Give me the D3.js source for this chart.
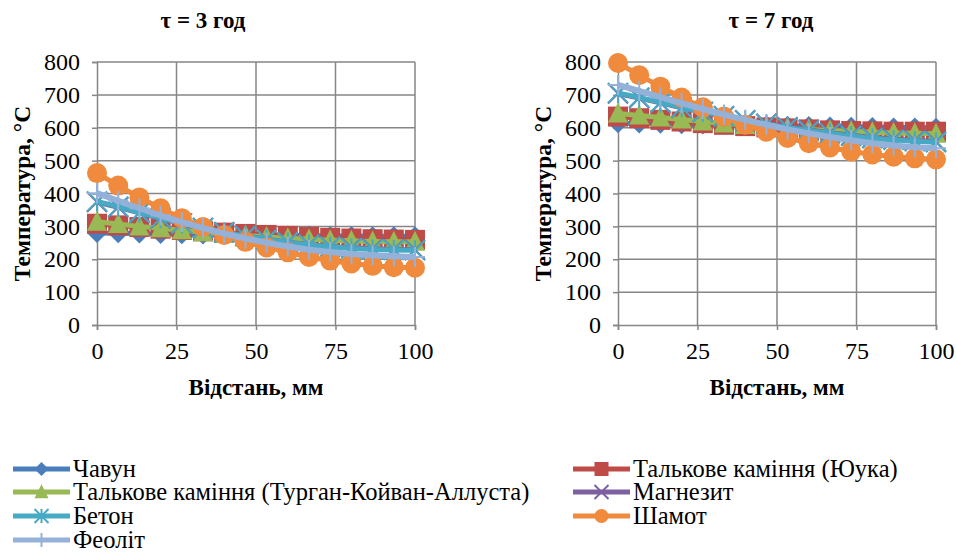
<!DOCTYPE html>
<html>
<head>
<meta charset="utf-8">
<script src="https://cdn.jsdelivr.net/npm/d3@7"></script>
<style>
body { margin: 0; background: #fff; }
</style>
</head>
<body>
<script>
var w = 956;
var h = 553;
var serif = "'Liberation Serif'";

// distance points, mm
var distance = [0, 6.67, 13.33, 20, 26.67, 33.33, 40, 46.67, 53.33, 60, 66.67, 73.33, 80, 86.67, 93.33, 100];
var xTicks = [0, 25, 50, 75, 100];
var yTicks = [0, 100, 200, 300, 400, 500, 600, 700, 800];

var names = ["Чавун", "Талькове каміння (Юука)", "Талькове каміння (Турган-Койван-Аллуста)",
             "Магнезит", "Бетон", "Шамот", "Феоліт"];
var colors = ["#4A7EBB", "#BE4B48", "#98B954", "#7D60A0", "#46AAC5", "#F08A3C", "#93B1D9"];
var markers = ["diamond", "square", "triangle", "x", "star", "circle", "plus"];

// tau = 3 h
var t3_chavun   = [280, 279, 278, 277, 276, 275, 274, 274, 273, 272, 272, 271, 271, 270, 270, 270];
var t3_yuuka    = [308, 303, 298, 293, 289, 285, 281, 277, 274, 271, 268, 265, 263, 261, 260, 259];
var t3_turgan   = [314, 307, 300, 294, 288, 282, 277, 272, 268, 264, 261, 258, 256, 254, 253, 253];
var t3_magnezit = [374, 358, 341, 324, 309, 295, 282, 271, 261, 252, 245, 239, 235, 232, 230, 229];
var t3_beton    = [376, 360, 342, 325, 309, 295, 282, 270, 260, 251, 244, 238, 233, 230, 228, 227];
var t3_shamot   = [462, 424, 388, 355, 325, 298, 274, 253, 236, 221, 207, 196, 187, 180, 176, 174];
var t3_feolit   = [401, 378, 355, 333, 313, 295, 278, 263, 250, 239, 229, 222, 216, 212, 209, 207];

// tau = 7 h
var t7_chavun   = [614, 613, 612, 611, 610, 609, 608, 607, 606, 605, 604, 603, 602, 601, 601, 600];
var t7_yuuka    = [634, 629, 624, 619, 614, 609, 605, 601, 598, 595, 592, 590, 589, 588, 588, 588];
var t7_turgan   = [643, 637, 631, 625, 619, 613, 608, 603, 599, 595, 592, 589, 586, 584, 583, 582];
var t7_magnezit = [704, 690, 676, 661, 648, 635, 623, 612, 602, 593, 585, 577, 570, 565, 561, 558];
var t7_beton    = [706, 692, 677, 662, 648, 635, 622, 611, 601, 591, 583, 575, 568, 563, 559, 556];
var t7_shamot   = [797, 760, 725, 692, 662, 634, 609, 588, 569, 553, 540, 528, 519, 512, 507, 504];
var t7_feolit   = [730, 712, 693, 675, 657, 640, 624, 609, 595, 583, 572, 562, 553, 546, 541, 538];

var charts = [
  {title: "τ = 3 год", left: 97, titleX: 203,
   series: [t3_chavun, t3_yuuka, t3_turgan, t3_magnezit, t3_beton, t3_shamot, t3_feolit]},
  {title: "τ = 7 год", left: 618, titleX: 771,
   series: [t7_chavun, t7_yuuka, t7_turgan, t7_magnezit, t7_beton, t7_shamot, t7_feolit]}
];

var plotW = 318;
var plotTop = 62;
var plotBottom = 325;
var gridColor = "#868686";

var svg = d3.select("body").append("svg").attr("width", w).attr("height", h);

/** marker drawing **/
function drawMarker(g, type, color, x, y, s) {
  var r = s / 2;
  if (type == "diamond") {
    g.append("path").attr("d", "M" + x + "," + (y - r) + "L" + (x + r) + "," + y + "L" + x + "," + (y + r) + "L" + (x - r) + "," + y + "Z")
      .attr("fill", color);
  } else if (type == "square") {
    g.append("rect").attr("x", x - r).attr("y", y - r).attr("width", s).attr("height", s).attr("fill", color);
  } else if (type == "triangle") {
    g.append("path").attr("d", "M" + x + "," + (y - r * 1.1) + "L" + (x + r) + "," + (y + r * 0.9) + "L" + (x - r) + "," + (y + r * 0.9) + "Z")
      .attr("fill", color);
  } else if (type == "circle") {
    g.append("circle").attr("cx", x).attr("cy", y).attr("r", r).attr("fill", color);
  } else {
    var d = "";
    if (type == "x" || type == "star") {
      d += "M" + (x - r) + "," + (y - r) + "L" + (x + r) + "," + (y + r) + "M" + (x + r) + "," + (y - r) + "L" + (x - r) + "," + (y + r);
    }
    if (type == "star" || type == "plus") {
      d += "M" + x + "," + (y - r) + "L" + x + "," + (y + r);
    }
    if (type == "plus") {
      d += "M" + (x - r) + "," + y + "L" + (x + r) + "," + y;
    }
    g.append("path").attr("d", d).attr("stroke", color).attr("stroke-width", 2).attr("fill", "none");
  }
}

charts.forEach(function(c) {
  var x = d3.scaleLinear().domain([0, 100]).range([c.left, c.left + plotW]);
  var y = d3.scaleLinear().domain([0, 800]).range([plotBottom, plotTop]);
  var g = svg.append("g");

  // grid
  g.selectAll(".hg").data(yTicks.slice(1)).enter().append("line")
    .attr("x1", x(0)).attr("x2", x(100))
    .attr("y1", function(d) { return y(d); }).attr("y2", function(d) { return y(d); })
    .attr("stroke", gridColor).attr("stroke-width", 1.5);
  g.selectAll(".vg").data(xTicks.slice(1)).enter().append("line")
    .attr("y1", y(0)).attr("y2", y(800))
    .attr("x1", function(d) { return x(d); }).attr("x2", function(d) { return x(d); })
    .attr("stroke", gridColor).attr("stroke-width", 1.5);

  // axes
  var yAxis = g.append("g").attr("transform", "translate(" + x(0) + ",0)")
    .call(d3.axisLeft(y).tickValues(yTicks).tickSize(5).tickPadding(12));
  var xAxis = g.append("g").attr("transform", "translate(0," + y(0) + ")")
    .call(d3.axisBottom(x).tickValues(xTicks).tickSize(5).tickPadding(12));
  [yAxis, xAxis].forEach(function(a) {
    a.select(".domain").attr("stroke", gridColor).attr("stroke-width", 1.5);
    a.selectAll(".tick line").attr("stroke", gridColor).attr("stroke-width", 1.5);
    a.selectAll(".tick text").attr("fill", "#000")
      .style("font-family", serif).style("font-size", "24px");
  });

  // titles
  g.append("text").attr("x", c.titleX).attr("y", 28).attr("text-anchor", "middle")
    .style("font-family", serif).style("font-size", "23px").style("font-weight", "bold").text(c.title);
  g.append("text").attr("x", x(50)).attr("y", 395).attr("text-anchor", "middle")
    .style("font-family", serif).style("font-size", "23px").style("font-weight", "bold").text("Відстань, мм");
  g.append("text").attr("transform", "translate(" + (c.left - 67) + "," + ((plotTop + plotBottom) / 2) + ") rotate(-90)")
    .attr("text-anchor", "middle")
    .style("font-family", serif).style("font-size", "23.5px").style("font-weight", "bold").text("Температура, °С");

  // series
  var line = d3.line().x(function(d, i) { return x(distance[i]); }).y(function(d) { return y(d); });
  c.series.forEach(function(s, k) {
    var sg = g.append("g");
    sg.append("path").datum(s).attr("d", line).attr("fill", "none")
      .attr("stroke", colors[k]).attr("stroke-width", k == 6 ? 6 : 5).attr("stroke-linejoin", "round");
    s.forEach(function(v, i) {
      drawMarker(sg, markers[k], colors[k], x(distance[i]), y(v), 20);
    });
  });
});

// legend
var legendPos = [[13, 469], [573, 469], [13, 492], [573, 492], [13, 516], [573, 516], [13, 540]];
names.forEach(function(n, k) {
  var p = legendPos[k];
  var lg = svg.append("g");
  lg.append("line").attr("x1", p[0]).attr("x2", p[0] + 57).attr("y1", p[1]).attr("y2", p[1])
    .attr("stroke", colors[k]).attr("stroke-width", 5);
  drawMarker(lg, markers[k], colors[k], p[0] + 28.5, p[1], 14);
  lg.append("text").attr("x", p[0] + 60).attr("y", p[1] + 8)
    .style("font-family", serif).style("font-size", "24.5px").text(n);
});
</script>
</body>
</html>
